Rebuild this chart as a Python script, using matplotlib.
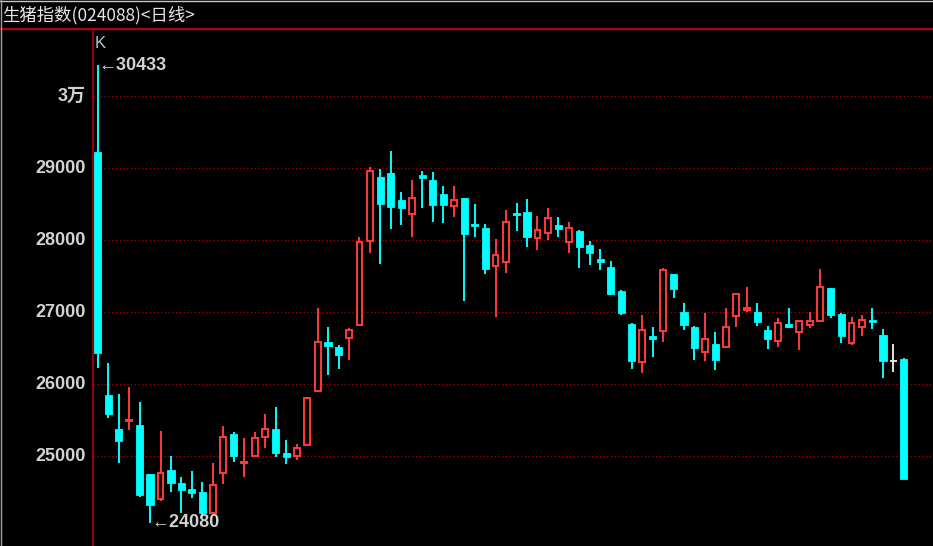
import matplotlib
matplotlib.use("Agg")
import matplotlib.pyplot as plt
from matplotlib.lines import Line2D
import matplotlib.transforms as mtransforms

title = "生猪指数(024088)<日线>"
opens = [29231, 25856, 25379, 25490, 25439, 24750, 24403, 24810, 24625, 24546,
         24500, 24208, 24764, 25314, 24910, 25008, 25264, 25375, 25046, 25008,
         25157, 25911, 26583, 26518, 26639, 26828, 27994, 28875, 28939, 28564,
         28365, 28903, 28838, 28647, 28472, 28583, 28226, 28167, 27643, 27699,
         28375, 28398, 28032, 28097, 28208, 27972, 28129, 27939, 27736, 27625,
         27296, 26837, 26306, 26671, 26745, 27528, 27004, 26792, 26449, 26564,
         26514, 26949, 27032, 27004, 26754, 26597, 26833, 26722, 26824, 26884,
         27333, 26981, 26570, 26800, 26889, 26689, 26328, 26356]
highs = [30433, 26292, 25861, 25963, 25750, 24760, 25356, 25004, 24708, 24796,
         24647, 24903, 25421, 25333, 25250, 25333, 25588, 25689, 25231, 25167,
         25820, 27060, 26796, 26542, 26786, 28042, 29022, 28986, 29236, 28671,
         28838, 28963, 28944, 28759, 28759, 28590, 28504, 28231, 28022, 28421,
         28522, 28569, 28338, 28444, 28319, 28254, 28143, 27990, 27879, 27717,
         27314, 26845, 26962, 26796, 27611, 27535, 27129, 26810, 26986, 26731,
         27064, 27272, 27356, 27129, 26810, 26917, 27064, 26880, 27004, 27606,
         27340, 26990, 26935, 26958, 27064, 26772, 26564, 26360]
lows = [26222, 25528, 24903, 25365, 24439, 24080, 24384, 24508, 24217, 24425,
        24161, 24185, 24615, 24925, 24717, 25000, 25111, 24986, 24889, 24948,
        25150, 25900, 26134, 26217, 26342, 26820, 27819, 27675, 28153, 28212,
        28050, 28444, 28254, 28236, 28319, 27153, 28050, 27532, 26931, 27550,
        28134, 27903, 27861, 28004, 28050, 27828, 27611, 27653, 27588, 27250,
        26967, 26217, 26153, 26384, 26592, 27194, 26754, 26338, 26324, 26194,
        26505, 26800, 27008, 26814, 26486, 26514, 26795, 26472, 26778, 26865,
        26925, 26570, 26551, 26671, 26772, 26092, 26175, 24680]
closes = [26431, 25592, 25217, 25500, 24462, 24323, 24772, 24633, 24532, 24490,
          24217, 24601, 25272, 25008, 24925, 25250, 25375, 25050, 24990, 25120,
          25810, 26583, 26532, 26403, 26750, 27976, 28958, 28508, 28467, 28444,
          28583, 28861, 28486, 28486, 28564, 28092, 28199, 27597, 27792, 28250,
          28347, 28050, 28143, 28310, 28157, 28167, 27907, 27824, 27699, 27259,
          26994, 26324, 26754, 26634, 27583, 27319, 26819, 26508, 26625, 26342,
          26792, 27250, 27064, 26865, 26634, 26851, 26800, 26875, 26875, 27351,
          26967, 26676, 26856, 26898, 26865, 26324, 26328, 24681]
grid_levels = [25000, 26000, 27000, 28000, 29000, 30000]
grid_labels = ["25000", "26000", "27000", "28000", "29000", "3万"]

W, H = 933, 546
BG = "black"
UP = "#ff3a3a"
DOWN = "#00ffff"
FLAT = "#e0e0e0"
AXRED = "#b40000"
TXT = "#d2d2d2"

fig = plt.figure(figsize=(W / 100, H / 100), dpi=100, facecolor=BG)
ax = fig.add_axes([93 / W, 0, (W - 93) / W, (H - 29) / H], facecolor=BG)
ax.set_xlim(-0.449, 79.78)
ax.set_ylim(23754, 30935)
ax.axis("off")

for lv in grid_levels:
    ax.axhline(lv, color="#b00000", lw=0.9, ls=(0, (1, 2)), zorder=1)

bw = 0.68
minh = 22
for i, (o, h, l, c) in enumerate(zip(opens, highs, lows, closes)):
    top, bot = max(o, c), min(o, c)
    if c > o:
        ax.vlines(i, top, h, color=UP, lw=1.4, zorder=2)
        ax.vlines(i, l, bot, color=UP, lw=1.4, zorder=2)
        ax.bar(i, top - bot, bottom=bot, width=bw - 0.12, facecolor=BG,
               edgecolor=UP, lw=1.4, zorder=3)
    elif c < o:
        ax.vlines(i, l, h, color=DOWN, lw=1.4, zorder=2)
        hh = max(top - bot, minh)
        ax.bar(i, hh, bottom=top - hh, width=bw, facecolor=DOWN,
               edgecolor=DOWN, lw=0.6, zorder=3)
    else:
        ax.vlines(i, l, h, color=FLAT, lw=1.4, zorder=2)
        ax.hlines(o, i - bw / 2, i + bw / 2, color=FLAT, lw=1.4, zorder=3)

# y labels
trans = mtransforms.blended_transform_factory(ax.transAxes, ax.transData)
xlab = (86 - 93) / (W - 93)
for lv, lab in zip(grid_levels, grid_labels):
    ax.text(xlab, lv, lab, transform=trans, ha="right", va="center",
            color=TXT, fontsize=13, fontweight="bold",
            family=["Liberation Sans", "Noto Sans CJK SC"], clip_on=False)

# max / min annotations
imax = highs.index(max(highs))
imin = lows.index(min(lows))
ax.text(imax + 0.1, highs[imax], "←" + str(max(highs)), ha="left", va="center",
        color=TXT, fontsize=13, fontweight="bold",
        family=["Liberation Sans", "DejaVu Sans"], zorder=5)
ax.text(imin + 0.1, lows[imin], "←" + str(min(lows)), ha="left", va="center",
        color=TXT, fontsize=13, fontweight="bold",
        family=["Liberation Sans", "DejaVu Sans"], zorder=5)

# K label
fig.text(95 / W, 1 - 44 / H, "K", ha="left", va="center", color="#b4c4d4",
         fontsize=12, family="Liberation Sans")

# title
fig.text(2 / W, 1 - 15 / H, title, ha="left", va="center", color="#e6e6e6",
         fontsize=12.5, family=["Noto Sans CJK SC", "DejaVu Sans"])

# frame lines
fig.add_artist(Line2D([0, 1], [1 - 29 / H, 1 - 29 / H], transform=fig.transFigure,
                      color=AXRED, lw=1.6))
fig.add_artist(Line2D([93 / W, 93 / W], [0, 1 - 29 / H], transform=fig.transFigure,
                      color=AXRED, lw=1.2))
fig.add_artist(Line2D([0, 1], [1 - 0.5 / H, 1 - 0.5 / H], transform=fig.transFigure,
                      color="#c8c8c8", lw=1.0))
fig.add_artist(Line2D([0.5 / W, 0.5 / W], [0, 1], transform=fig.transFigure,
                      color="#a0a0a0", lw=1.0))

fig.savefig("out.png", dpi=100, facecolor=BG)
